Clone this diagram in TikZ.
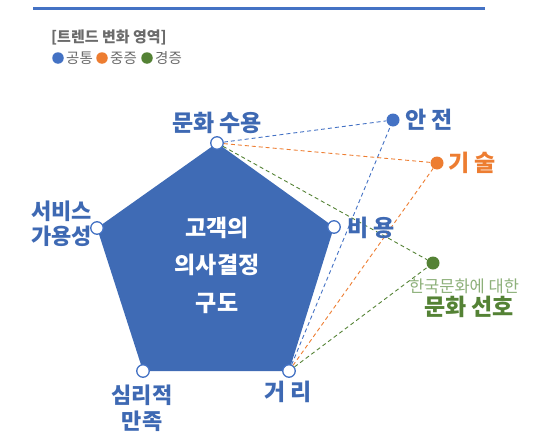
\documentclass[tikz,border=0pt]{standalone}
\usepackage{fontspec}
\newfontfamily\kr{Noto Sans CJK KR}
\definecolor{cblue}{HTML}{4472C4}
\definecolor{ctext}{HTML}{3E69B3}
\definecolor{cpent}{HTML}{3F6BB5}
\definecolor{corange}{HTML}{ED7D31}
\definecolor{cgreen}{HTML}{548235}
\definecolor{clgreen}{HTML}{8DB07A}
\definecolor{cgray}{HTML}{6B6B6B}
\begin{document}
\begin{tikzpicture}[x=1pt,y=-1pt,
  lbl/.style={font=\kr\bfseries\fontsize{23}{25}\selectfont, text=ctext, inner sep=0pt, align=center},
  leg/.style={font=\kr\fontsize{14.5}{16}\selectfont, text=cgray, inner sep=0pt, anchor=west},
  ldot/.style={circle, minimum size=11.5pt, inner sep=0pt},
  vtx/.style={circle, draw=cblue, fill=white, line width=1.3pt, minimum size=12.5pt, inner sep=0pt},
  sat/.style={circle, minimum size=13pt, inner sep=0pt},
  dl/.style={dash pattern=on 4pt off 3pt, line width=0.9pt}]
\useasboundingbox (0,0) rectangle (541,434);
% top rule
\coordinate (r1) at (33,8);
\coordinate (r2) at (485,8);
\draw[cblue, line width=3pt] (r1) -- (r2);
% legend
\node[leg, font=\kr\bfseries\fontsize{15}{17}\selectfont] (lgt) at (51,37) {[트렌드 변화 영역]};
\node[ldot, fill=cblue] (d1) at (58,58) {};
\node[leg] (t1) at (66,58) {공통};
\node[ldot, fill=corange] (d2) at (102,58) {};
\node[leg] (t2) at (110,58) {중증};
\node[ldot, fill=cgreen] (d3) at (147,58) {};
\node[leg] (t3) at (155,58) {경증};
% pentagon
\coordinate (A) at (217,143);
\coordinate (B) at (334,227);
\coordinate (C) at (289,371);
\coordinate (D) at (143,371);
\coordinate (E) at (97,228);
\fill[cpent] (A) -- (B) -- (C) -- (D) -- (E) -- cycle;
\node[font=\kr\bfseries\fontsize{23}{37.5}\selectfont, text=white, align=center, inner sep=0pt] (ctr) at (217,265) {고객의\\의사결정\\구도};
% satellites
\node[sat, fill=cblue] (s1) at (393,120) {};
\node[sat, fill=corange] (s2) at (437,163) {};
\node[sat, fill=cgreen] (s3) at (433,263) {};
% vertex markers
\node[vtx] (vA) at (A) {};
\node[vtx] (vB) at (B) {};
\node[vtx] (vC) at (C) {};
\node[vtx] (vD) at (D) {};
\node[vtx] (vE) at (E) {};
% dashed connectors
\draw[dl, cblue] (vA) -- (s1);
\draw[dl, cblue] (vC) -- (s1);
\draw[dl, corange] (vA) -- (s2);
\draw[dl, corange] (vC) -- (s2);
\draw[dl, cgreen] (vA) -- (s3);
\draw[dl, cgreen] (vC) -- (s3);
% labels
\node[lbl] (lA) at (217,123) {문화 수용};
\node[lbl, align=right, anchor=east, font=\kr\bfseries\fontsize{22}{25}\selectfont] (lE) at (92,224) {서비스\\가용성};
\node[lbl, anchor=west] (lB) at (347,228) {비 용};
\node[lbl] (lC) at (288,392) {거 리};
\node[lbl, font=\kr\bfseries\fontsize{22}{26}\selectfont] (lD) at (142,408) {심리적\\만족};
\node[lbl, anchor=west] (l1) at (405,120) {안 전};
\node[lbl, anchor=west, text=corange] (l2) at (448,163) {기 술};
\node[inner sep=0pt, font=\kr\fontsize{16.5}{18}\selectfont, text=clgreen] (l3a) at (464,286) {한국문화에 대한};
\node[lbl, text=cgreen] (l3b) at (469,307) {문화 선호};
\end{tikzpicture}
\end{document}
